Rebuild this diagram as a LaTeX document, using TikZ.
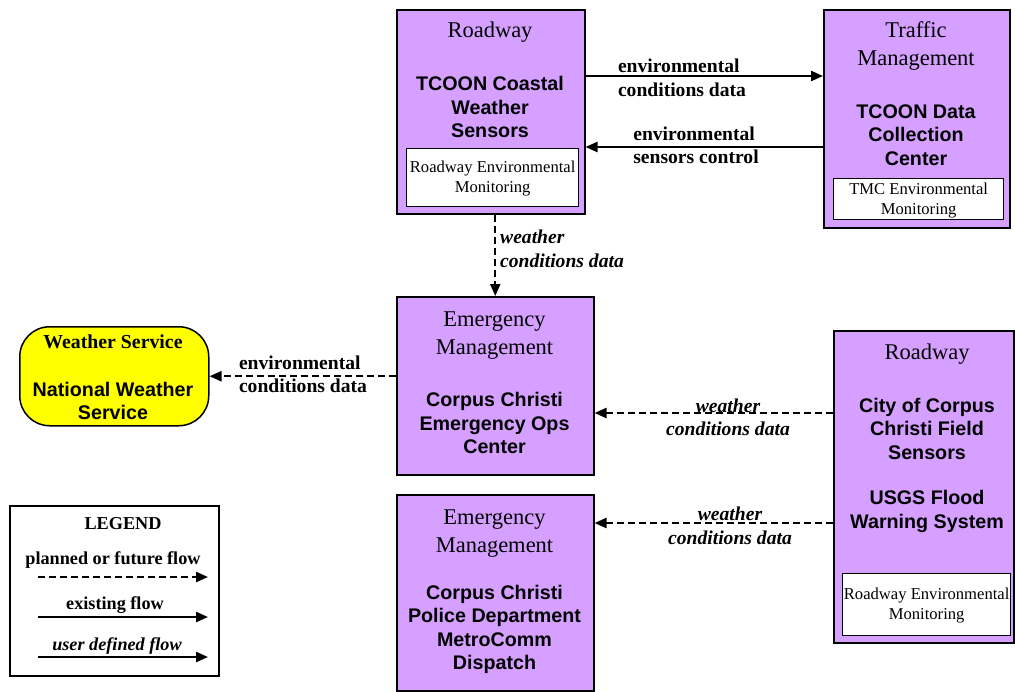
\documentclass[tikz,border=0pt]{standalone}
\usepackage{fontspec}
\setmainfont{Liberation Serif}
\newfontfamily\arialfont{Liberation Sans}
\usetikzlibrary{arrows.meta}
\definecolor{boxpurple}{RGB}{213,160,255}
\definecolor{wsyellow}{RGB}{255,255,0}
\tikzset{
  ebox/.style={draw=black, line width=1.5pt, fill=boxpurple, anchor=north west, inner sep=0pt},
  ibox/.style={draw=black, line width=1.3pt, fill=white, anchor=north west, inner sep=0pt},
  ttl/.style={font=\fontsize{22.5}{28}\selectfont, align=center, inner sep=0pt},
  nm/.style={font=\arialfont\bfseries\fontsize{19.7}{23.5}\selectfont, align=center, inner sep=0pt},
  itxt/.style={font=\fontsize{16.6}{20}\selectfont, align=center, inner sep=0pt},
  lbl/.style={font=\bfseries\fontsize{19.6}{23.5}\selectfont, inner sep=0pt},
  ilbl/.style={font=\bfseries\itshape\fontsize{19.6}{23.5}\selectfont, inner sep=0pt},
  lgt/.style={font=\bfseries\fontsize{18.2}{22}\selectfont, inner sep=0pt},
  solidflow/.style={line width=2.2pt, -{Triangle[length=12pt,width=10pt]}},
  dashflow/.style={line width=2.2pt, dash pattern=on 7pt off 4pt, -{Triangle[length=12pt,width=10pt]}},
}
\begin{document}
\begin{tikzpicture}[x=1pt,y=-1pt]
\useasboundingbox (0,0) rectangle (1015,691);

% Roadway TCOON Coastal Weather Sensors
\node[ebox, minimum width=188pt, minimum height=204pt] (b1) at (396,9) {};
\node[ttl] (b1t) at (490,32.5) {Roadway};
\node[nm] (b1n) at (490,107) {TCOON Coastal\\Weather\\Sensors};
\node[ibox, minimum width=172pt, minimum height=58pt] (b1i) at (406,148) {};
\node[itxt] (b1it) at ([yshift=-1pt]b1i.center) {Roadway Environmental\\Monitoring};

% Traffic Management
\node[ebox, minimum width=186pt, minimum height=218pt] (b2) at (823,9) {};
\node[ttl] (b2t) at (916,46.5) {Traffic\\Management};
\node[nm] (b2n) at (916,135) {TCOON Data\\Collection\\Center};
\node[ibox, minimum width=170pt, minimum height=41pt] (b2i) at (833,178) {};
\node[itxt] (b2it) at ([yshift=-1pt]b2i.center) {TMC Environmental\\Monitoring};

% Emergency Management - EOC
\node[ebox, minimum width=197pt, minimum height=178pt] (b3) at (396,296) {};
\node[ttl] (b3t) at (494.5,335.5) {Emergency\\Management};
\node[nm] (b3n) at (494.5,423) {Corpus Christi\\Emergency Ops\\Center};

% Emergency Management - Police
\node[ebox, minimum width=197pt, minimum height=196pt] (b4) at (396,494) {};
\node[ttl] (b4t) at (494.5,533.5) {Emergency\\Management};
\node[nm] (b4n) at (494.5,629.5) {Corpus Christi\\Police Department\\MetroComm\\Dispatch};

% Roadway City of Corpus Christi
\node[ebox, minimum width=180pt, minimum height=312pt] (b5) at (833,330) {};
\node[ttl] (b5t) at (927,354.5) {Roadway};
\node[nm] (b5n) at (927,428.5) {City of Corpus\\Christi Field\\Sensors};
\node[nm] (b5m) at (927,511.5) {USGS Flood\\Warning System};
\node[ibox, minimum width=168pt, minimum height=62pt] (b5i) at (842,573) {};
\node[itxt] (b5it) at ([yshift=-1pt]b5i.center) {Roadway Environmental\\Monitoring};

% Weather Service
\node[draw=black, line width=1.5pt, fill=wsyellow, rounded corners=30pt, minimum width=189pt, minimum height=99pt, anchor=north west, inner sep=0pt] (ws) at (19,326) {};
\node[font=\bfseries\fontsize{19.8}{23}\selectfont, inner sep=0pt] (wst) at (113,342) {Weather Service};
\node[nm] (wsn) at (113,401) {National Weather\\Service};

% Flows
\draw[solidflow] ([yshift=-67pt]b1.north east) -- ([yshift=-67pt]b2.north west) coordinate (e1);
\node[lbl, align=left] (l1) at (682,78) {environmental\\conditions data};

\draw[solidflow] ([yshift=-138pt]b2.north west) -- ([yshift=-138pt]b1.north east) coordinate (e2);
\node[lbl, align=left] (l2) at (696,145.5) {environmental\\sensors control};

\draw[dashflow] (b3.north |- b1.south) -- (b3.north);
\node[ilbl, align=left] (l3) at (562,249) {weather\\conditions data};

\draw[dashflow] (b3.west |- ws.east) -- (ws.east);
\node[lbl, align=left] (l4) at (303,374.5) {environmental\\conditions data};

\draw[dashflow] ([yshift=-83pt]b5.north west) -- ([yshift=-117pt]b3.north east);
\node[ilbl, align=center] (l5) at (728,417.5) {weather\\conditions data};

\draw[dashflow] ([yshift=-193pt]b5.north west) -- ([yshift=-29pt]b4.north east);
\node[ilbl, align=center] (l6) at (730,526) {weather\\conditions data};

% Legend
\node[draw=black, line width=1.5pt, fill=white, minimum width=209pt, minimum height=170pt, anchor=north west, inner sep=0pt] (lg) at (9,505) {};
\node[lgt] (lgt1) at (123,523.5) {LEGEND};
\node[lgt] (lgt2) at (113,560.5) {planned or future flow};
\coordinate (la1) at (38,577);
\coordinate (la2) at (208,577);
\draw[dashflow] (la1) -- (la2);
\node[lgt] (lgt3) at (115,605.5) {existing flow};
\coordinate (lb1) at (38,617);
\coordinate (lb2) at (208,617);
\draw[solidflow] (lb1) -- (lb2);
\node[lgt, font=\bfseries\itshape\fontsize{18.2}{22}\selectfont] (lgt4) at (117,646.5) {user defined flow};
\coordinate (lc1) at (38,657);
\coordinate (lc2) at (208,657);
\draw[solidflow] (lc1) -- (lc2);
\end{tikzpicture}
\end{document}
